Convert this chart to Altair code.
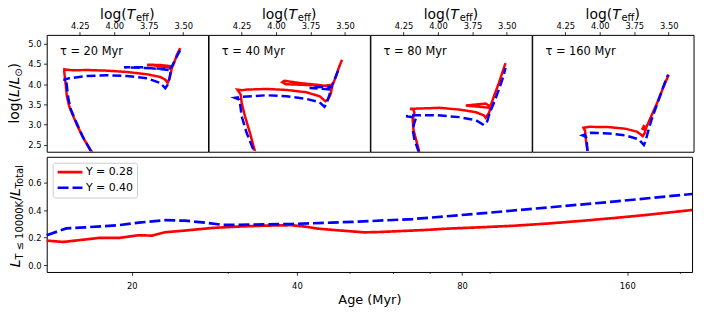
import altair as alt
import pandas as pd

FONT = "DejaVu Sans"
PANELS = ["τ = 20 Myr", "τ = 40 Myr", "τ = 80 Myr", "τ = 160 Myr"]
SERIES = ["Y = 0.28", "Y = 0.40"]
COLORS = ["#ff0000", "#0000ff"]

# ---- HR tracks (logTeff, logL) ----
p20_y28_T = [4.159, 4.219, 4.267, 4.303, 4.327, 4.344, 4.351, 4.358, 4.363, 4.362, 4.350, 4.300, 4.195, 4.050, 3.906, 3.762, 3.666, 3.630, 3.613, 3.601, 3.587, 3.582, 3.666, 3.762, 3.666, 3.582, 3.565, 3.546, 3.522]
p20_y28_L = [2.307, 2.635, 2.964, 3.251, 3.456, 3.703, 3.949, 4.154, 4.318, 4.370, 4.360, 4.345, 4.351, 4.335, 4.302, 4.245, 4.179, 4.113, 4.031, 4.130, 4.318, 4.442, 4.475, 4.483, 4.450, 4.401, 4.540, 4.729, 4.893]
p20_y40_T = [4.171, 4.231, 4.279, 4.315, 4.332, 4.341, 4.346, 4.339, 4.368, 4.327, 4.195, 4.050, 3.906, 3.762, 3.666, 3.630, 3.613, 3.599, 3.589, 3.786, 3.930, 3.786, 3.600, 3.582, 3.558, 3.534, 3.522]
p20_y40_L = [2.348, 2.717, 3.087, 3.374, 3.621, 3.867, 4.031, 4.097, 4.113, 4.146, 4.204, 4.220, 4.204, 4.146, 4.031, 3.900, 3.990, 4.154, 4.343, 4.417, 4.417, 4.401, 4.380, 4.442, 4.606, 4.770, 4.836]

p40_y28_T = [4.154, 4.190, 4.226, 4.250, 4.257, 4.281, 4.250, 4.214, 4.070, 3.926, 3.781, 3.685, 3.642, 3.625, 3.606, 3.594, 3.700, 3.830, 3.940, 3.955, 3.930, 3.800, 3.660, 3.590, 3.565, 3.546, 3.522]
p40_y28_L = [2.348, 2.800, 3.210, 3.539, 3.744, 3.867, 3.851, 3.867, 3.883, 3.859, 3.801, 3.703, 3.580, 3.621, 3.744, 3.933, 3.985, 4.030, 4.085, 4.050, 4.000, 3.985, 3.960, 3.990, 4.195, 4.401, 4.606]
p40_y40_T = [4.166, 4.214, 4.250, 4.262, 4.267, 4.298, 4.250, 4.070, 3.926, 3.781, 3.685, 3.649, 3.632, 3.613, 3.601, 3.757, 3.685, 3.600, 3.577, 3.553, 3.541]
p40_y40_L = [2.389, 2.800, 3.210, 3.539, 3.621, 3.662, 3.686, 3.727, 3.703, 3.637, 3.555, 3.440, 3.539, 3.744, 3.867, 3.908, 3.933, 3.930, 4.113, 4.318, 4.442]

p80_y28_T = [4.135, 4.159, 4.178, 4.183, 4.171, 4.178, 4.202, 4.135, 3.990, 3.846, 3.726, 3.666, 3.654, 3.630, 3.618, 3.798, 3.654, 3.620, 3.594, 3.558, 3.534, 3.510]
p80_y28_L = [2.323, 2.635, 2.882, 3.128, 3.292, 3.374, 3.391, 3.399, 3.416, 3.374, 3.309, 3.227, 3.169, 3.292, 3.416, 3.473, 3.522, 3.450, 3.703, 4.031, 4.278, 4.524]
p80_y40_T = [4.139, 4.171, 4.183, 4.171, 4.159, 4.231, 4.159, 4.014, 3.846, 3.726, 3.666, 3.642, 3.625, 3.594, 3.558, 3.529, 3.510]
p80_y40_L = [2.323, 2.635, 2.882, 3.046, 3.169, 3.210, 3.235, 3.235, 3.186, 3.112, 2.989, 3.087, 3.292, 3.539, 3.867, 4.154, 4.401]

p160_y28_T = [4.089, 4.101, 4.106, 4.118, 4.077, 3.933, 3.813, 3.729, 3.688, 3.673, 3.664, 3.680, 3.690, 3.672, 3.664, 3.632, 3.584, 3.536, 3.500]
p160_y28_L = [2.348, 2.635, 2.841, 2.923, 2.947, 2.939, 2.898, 2.824, 2.717, 2.800, 2.923, 2.964, 2.900, 2.870, 2.923, 3.169, 3.539, 3.949, 4.236]
p160_y40_T = [4.089, 4.096, 4.100, 4.125, 4.065, 3.933, 3.813, 3.716, 3.680, 3.668, 3.649, 3.620, 3.572, 3.529, 3.505]
p160_y40_L = [2.348, 2.635, 2.700, 2.734, 2.800, 2.783, 2.734, 2.635, 2.496, 2.594, 2.841, 3.169, 3.621, 4.031, 4.236]

# ---- luminosity fraction vs age ----
age_y28 = [14.0, 15.0, 17.5, 19.0, 20.6, 21.8, 23.0, 25.0, 28.0, 31.3, 35.0, 39.1, 41.4, 43.7, 48.9, 53.1, 56.9, 68.3, 75.2, 86.5, 99.4, 114.3, 131.3, 151.0, 173.4, 210.0]
frac_y28 = [0.179, 0.169, 0.199, 0.199, 0.218, 0.215, 0.240, 0.252, 0.271, 0.281, 0.288, 0.291, 0.281, 0.266, 0.250, 0.239, 0.242, 0.256, 0.266, 0.276, 0.287, 0.303, 0.322, 0.343, 0.366, 0.402]
age_y40 = [14.0, 15.2, 16.4, 19.0, 20.6, 23.0, 25.0, 27.2, 29.4, 33.1, 39.1, 46.2, 51.7, 65.1, 86.5, 114.3, 151.0, 210.0]
frac_y40 = [0.218, 0.268, 0.275, 0.292, 0.310, 0.328, 0.324, 0.310, 0.293, 0.295, 0.300, 0.310, 0.317, 0.336, 0.377, 0.420, 0.463, 0.519]

teff_ticks = [4.25, 4.00, 3.75, 3.50]
logl_ticks = [2.5, 3.0, 3.5, 4.0, 4.5, 5.0]
age_ticks = [20, 40, 80, 160]
age_minor = [30, 50, 60, 70, 90, 200]
frac_ticks = [0.0, 0.2, 0.4, 0.6]

tracks = [
    (PANELS[0], SERIES[0], p20_y28_T, p20_y28_L), (PANELS[0], SERIES[1], p20_y40_T, p20_y40_L),
    (PANELS[1], SERIES[0], p40_y28_T, p40_y28_L), (PANELS[1], SERIES[1], p40_y40_T, p40_y40_L),
    (PANELS[2], SERIES[0], p80_y28_T, p80_y28_L), (PANELS[2], SERIES[1], p80_y40_T, p80_y40_L),
    (PANELS[3], SERIES[0], p160_y28_T, p160_y28_L), (PANELS[3], SERIES[1], p160_y40_T, p160_y40_L),
]
rows = []
for panel, s, T, L in tracks:
    for i, (t, l) in enumerate(zip(T, L)):
        rows.append(dict(panel=panel, series=s, idx=i, logT=t, logL=l))
top_df = pd.DataFrame(rows)

bot_rows = [dict(series=SERIES[0], age=a, frac=f) for a, f in zip(age_y28, frac_y28)]
bot_rows += [dict(series=SERIES[1], age=a, frac=f) for a, f in zip(age_y40, frac_y40)]
bot_df = pd.DataFrame(bot_rows)

PW, PH = 162.5, 117.7
BW, BH = 650, 116
FIRST = "datum.idx == 0 && datum.series == 'Y = 0.28'"
FIRST_PANEL = FIRST + " && datum.panel == 'τ = 20 Myr'"


def cell_text(text, x, y, size, style="normal", angle=0, filt=FIRST):
    return alt.Chart().mark_text(
        text=text, align="left", baseline="alphabetic", font=FONT, fontSize=size,
        fontStyle=style, angle=angle, color="black"
    ).encode(x=alt.value(x), y=alt.value(y)).transform_filter(filt)


def free_text(text, x, y, size, style="normal", angle=0):
    return alt.Chart(pd.DataFrame({"t": [text]})).mark_text(
        align="left", baseline="alphabetic", font=FONT, fontSize=size,
        fontStyle=style, angle=angle, color="black"
    ).encode(x=alt.value(x), y=alt.value(y), text="t:N")


lines = alt.Chart().mark_line(clip=True, strokeWidth=2.5).encode(
    x=alt.X("logT:Q", scale=alt.Scale(domain=[3.32, 4.49], reverse=True, nice=False),
            axis=alt.Axis(orient="top", values=teff_ticks, format=".2f", title=None, labelPadding=1.5)),
    y=alt.Y("logL:Q", scale=alt.Scale(domain=[2.33, 5.22], nice=False),
            axis=alt.Axis(values=logl_ticks, format=".1f", title=None)),
    color=alt.Color("series:N", scale=alt.Scale(domain=SERIES, range=COLORS), legend=None),
    strokeDash=alt.StrokeDash("series:N", scale=alt.Scale(domain=SERIES, range=[[1, 0], [9, 4]]), legend=None),
    order=alt.Order("idx:Q"),
)
label = alt.Chart().mark_text(align="left", baseline="alphabetic", font=FONT, fontSize=11.5, color="black").encode(
    x=alt.value(13.3), y=alt.value(20.7), text="panel:N").transform_filter(FIRST)

top_title = [
    cell_text("log(", 53.75, -16.5, 14),
    cell_text("T", 80.55, -16.5, 14, "italic"),
    cell_text("eff", 89.95, -13.8, 10),
    cell_text(")", 103.15, -16.5, 14),
]
ytitle_top = [
    cell_text("log(", -27.5, 89.35, 14, angle=270, filt=FIRST_PANEL),
    cell_text("L", -27.5, 62.55, 14, "italic", angle=270, filt=FIRST_PANEL),
    cell_text("/", -27.5, 54.75, 14, angle=270, filt=FIRST_PANEL),
    cell_text("L", -27.5, 50.05, 14, "italic", angle=270, filt=FIRST_PANEL),
    cell_text("⊙", -24.5, 42.25, 10, angle=270, filt=FIRST_PANEL),
    cell_text(")", -27.5, 33.85, 14, angle=270, filt=FIRST_PANEL),
]

top = alt.layer(lines, label, *top_title, *ytitle_top).properties(width=PW, height=PH).facet(
    column=alt.Column("panel:N", sort=PANELS, header=alt.Header(title=None, labels=False)),
    data=top_df, spacing=0, bounds="flush",
)

blines = alt.Chart(bot_df).mark_line(strokeWidth=2.7).encode(
    x=alt.X("age:Q", scale=alt.Scale(type="log", domain=[14, 210], nice=False),
            axis=alt.Axis(values=age_ticks, format="d", title="Age (Myr)", titleFontSize=13,
                          labelPadding=6, titlePadding=4)),
    y=alt.Y("frac:Q", scale=alt.Scale(domain=[-0.05, 0.79], nice=False),
            axis=alt.Axis(values=frac_ticks, format=".1f", title=None)),
    color=alt.Color("series:N", scale=alt.Scale(domain=SERIES, range=COLORS),
                    legend=alt.Legend(orient="top-left", offset=6, title=None, symbolType="stroke",
                                      symbolSize=625, symbolStrokeWidth=2.7, clipHeight=12,
                                      rowPadding=3.7, padding=3.5, labelFont=FONT, labelFontSize=11,
                                      labelOffset=2, labelColor="black", fillColor="rgba(255,255,255,0.8)",
                                      strokeColor="#cccccc", cornerRadius=2)),
    strokeDash=alt.StrokeDash("series:N", scale=alt.Scale(domain=SERIES, range=[[1, 0], [11, 4]])),
    order=alt.Order("age:Q"),
)
minor = alt.Chart(pd.DataFrame({"age": age_minor})).mark_rule(color="black", strokeWidth=0.8).encode(
    x="age:Q", y=alt.value(BH), y2=alt.value(BH + 1.8))

ytitle_bot = [
    free_text("L", -26.5, 111.3, 14, "italic", 270),
    free_text("T ≤ 10000K", -23.5, 103.5, 10, angle=270),
    free_text("/", -26.5, 44.3, 14, angle=270),
    free_text("L", -26.5, 39.6, 14, "italic", 270),
    free_text("Total", -23.5, 31.8, 10, angle=270),
]

bottom = alt.layer(blines, minor, *ytitle_bot).properties(width=BW, height=BH)

chart = alt.vconcat(top, bottom, spacing=2.8).resolve_scale(
    color="independent", strokeDash="independent"
).properties(padding={"top": -2, "left": 0, "right": 0, "bottom": 0}).configure_view(
    stroke="black", strokeWidth=1
).configure_axis(
    grid=False, domain=False, tickColor="black", tickWidth=0.8, tickSize=3.3,
    labelFont=FONT, labelFontSize=8.4, labelColor="black", labelPadding=2.5,
    titleFont=FONT, titleFontSize=13.6, titleColor="black", titleFontWeight="normal",
)

chart.save("out.html", embed_options={"renderer": "svg", "actions": False})
